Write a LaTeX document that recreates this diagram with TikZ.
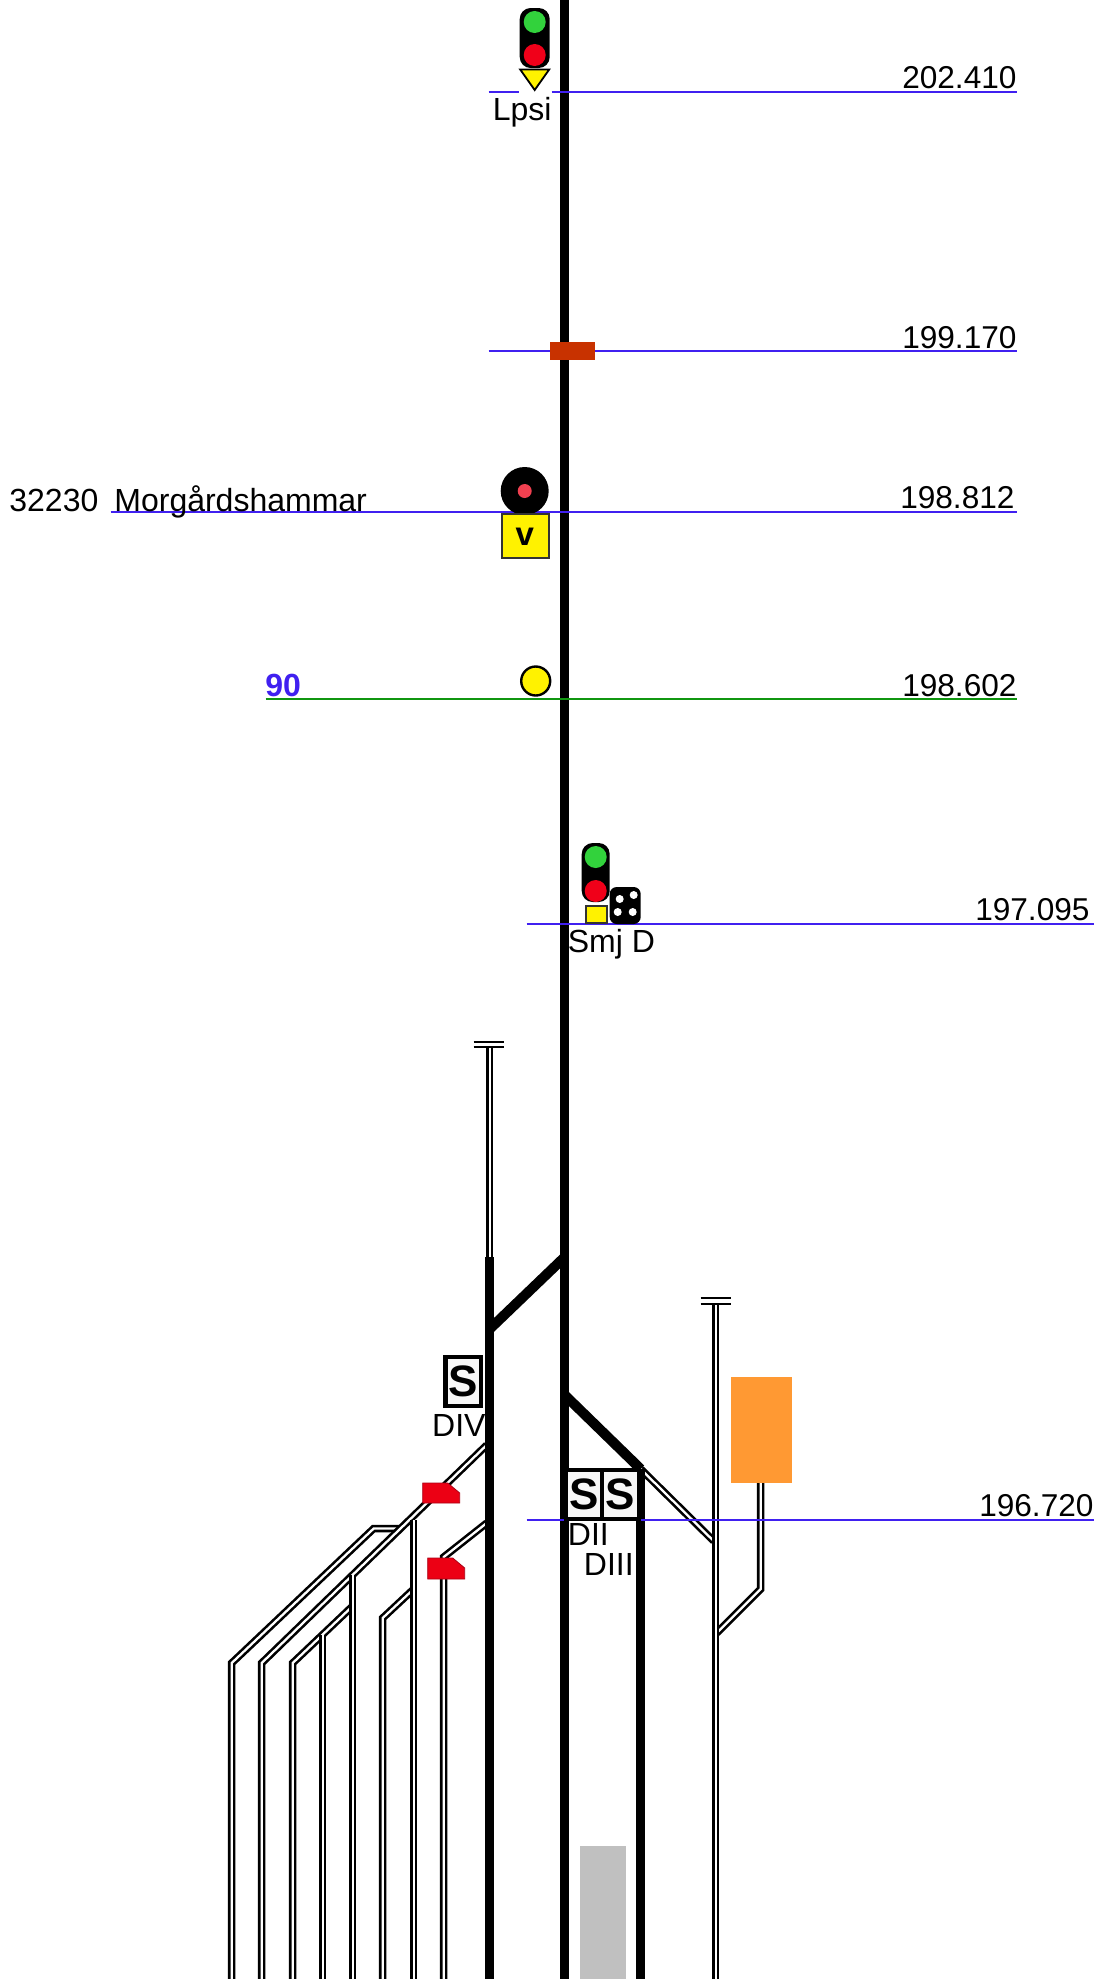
\documentclass[tikz,border=0pt]{standalone}
\usepackage{fontspec}
\setmainfont{Liberation Sans}
\begin{document}
\begin{tikzpicture}[x=1pt,y=-1pt,
  lbl/.style={inner sep=0pt,font=\fontsize{32}{36}\selectfont},
  lblr/.style={lbl,anchor=base east},
  lbll/.style={lbl,anchor=base west},
  kmlbl/.style={lblr,font=\fontsize{31.6}{36}\selectfont},
  thick track/.style={line width=8.6pt,black},
  side track/.style={line width=2.6pt,black,double=white,double distance=2.3pt,line join=miter},
  km blue/.style={line width=2pt,color={rgb,255:red,64;green,32;blue,240}},
  km green/.style={line width=2pt,color={rgb,255:red,16;green,150;blue,16}},
  buffer/.style={line width=2.6pt,black},
  sbox/.style={draw=black,line width=4.4pt,fill=white!97!black,inner sep=0pt,font=\fontsize{44}{44}\selectfont\bfseries},
  redmark/.style={fill={rgb,255:red,236;green,0;blue,20},draw={rgb,255:red,170;green,0;blue,20},line width=0.8pt},
  lamp green/.style={fill={rgb,255:red,50;green,210;blue,60},draw=none},
  lamp red/.style={fill={rgb,255:red,240;green,0;blue,25},draw=none},
  sigbody/.style={fill=black,draw=none,rounded corners=11pt},
  yellowbox/.style={fill=yellow,draw=black!80,line width=2pt},
]
\useasboundingbox (-0.7,0) rectangle (1103.3,1979);
\fill[white] (-0.7,0) rectangle (1103.3,1979);

% platform area
\fill[color={rgb,255:red,192;green,192;blue,192}] (579,1846) rectangle (625,1979);

% named points of the track layout
\coordinate (mainT) at (564,0);
\coordinate (mainB) at (564,1979);
\coordinate (leftT) at (489,1047);
\coordinate (leftM) at (489,1257);
\coordinate (leftB) at (489,1979);
\coordinate (jA) at (564,1257);
\coordinate (jB) at (489,1329);
\coordinate (jC) at (564,1395);
\coordinate (jD) at (640,1469);
\coordinate (d3B) at (640,1979);
\coordinate (eT) at (715,1303);
\coordinate (eB) at (715,1979);
\coordinate (eJ) at (713,1541);
\coordinate (eK) at (716,1633);
\coordinate (fT) at (760,1483);
\coordinate (fM) at (760,1589);

% side tracks on the left
\draw[side track] (400,1528.5) -- (373,1528.5) -- (231,1663) -- (231,1979);
\draw[side track] (486,1445) -- (261,1663) -- (261,1979);
\draw[side track] (352,1606) -- (292,1663) -- (292,1979);
\draw[side track] (322,1635) -- (322,1979);
\draw[side track] (352,1575) -- (352,1979);
\draw[side track] (413,1589) -- (382,1618) -- (382,1979);
\draw[side track] (413,1520) -- (413,1979);
\draw[side track] (486,1523) -- (443,1557) -- (443,1979);

% side tracks on the right
\draw[side track] (jD) -- (eJ);
\draw[side track] (fT) -- (fM) -- (eK);
\draw[side track] (eT) -- (eB);
\draw[buffer] (700,1298) -- (730,1298);
\draw[buffer] (700,1304) -- (730,1304);

% siding at top left
\draw[side track] (leftT) -- (leftM);
\draw[buffer] (473,1042) -- (503,1042);
\draw[buffer] (473,1047) -- (503,1047);

% thick tracks
\draw[thick track] (mainT) -- (mainB);
\draw[thick track] (leftM) -- (leftB);
\draw[thick track,line width=10pt] (jA) -- (jB);
\draw[thick track,line width=10pt] (jC) -- (jD);
\draw[thick track] (jD) -- (d3B);

% kilometre lines
\draw[km blue] (488,92) -- (518,92);
\draw[km blue] (551,92) -- (1016,92);
\draw[km blue] (488,351) -- (1016,351);
\draw[km blue] (110,512) -- (1016,512);
\draw[km green] (265,699) -- (1016,699);
\draw[km blue] (526,924) -- (1093,924);
\draw[km blue] (526,1520) -- (1093,1520);

% orange building
\fill[color={rgb,255:red,255;green,153;blue,51}] (730,1377) rectangle (791,1483);

% red markers
\path[redmark] (422,1483) -- (447,1483) -- (459,1493) -- (459,1503) -- (422,1503) -- cycle;
\path[redmark] (427,1558) -- (452,1558) -- (464,1568) -- (464,1579) -- (427,1579) -- cycle;

% brown block
\fill[color={rgb,255:red,200;green,50;blue,0}] (549,342) rectangle (594,360);

% signal Lpsi
\path[sigbody] (519,8) rectangle (549,68);
\path[lamp green] (534,22) circle (11);
\path[lamp red] (534,55) circle (11);
\path[fill=yellow,draw=black,line width=1.8pt] (519.5,69.5) -- (548.5,69.5) -- (534,90) -- cycle;
\node[lblr] (lpsi) at (551,120) {Lpsi};

% distant board signal
\fill[black] (524,491) circle (24);
\fill[color={rgb,255:red,240;green,64;blue,80}] (524,491) circle (7);
\path[yellowbox] (501,514) rectangle (548,558);
\node[inner sep=0pt,font=\fontsize{33}{33}\selectfont\bfseries] (vmark) at (524,537) {v};

% yellow disc
\path[fill=yellow,draw=black,line width=2.4pt] (535,681) circle (14.5);

% signal Smj D
\path[sigbody] (581,843) rectangle (609,902);
\path[lamp green] (595,857) circle (11);
\path[lamp red] (595,891) circle (11);
\path[fill=yellow,draw=black!80,line width=2pt] (585,906) rectangle (606,923);
\path[fill=black,rounded corners=7pt] (609,902) -- (609,887) -- (624,887) -- (640,887) -- (640,924) -- (609,924) -- cycle;
\fill[white] (619,899) circle (4);
\fill[white] (633,895) circle (4);
\fill[white] (617,912) circle (4);
\fill[white] (632,912) circle (4);
\node[lbll] (smjd) at (567,952) {Smj D};

% S boards
\node[sbox,minimum width=36pt,minimum height=49pt] (sa) at (583.5,1494.5) {S};
\node[sbox,minimum width=36.5pt,minimum height=49pt] (sb) at (619.75,1494.5) {S};
\node[sbox,minimum width=35.5pt,minimum height=49.5pt] (sc) at (462.5,1381.5) {S};
\node[lbll] (dii) at (567,1545) {DII};
\node[lbll] (diii) at (583,1575) {DIII};
\node[lblr] (div) at (485,1436) {DIV};

% kilometre labels
\node[kmlbl] (k1) at (1016,88) {202.410};
\node[kmlbl] (k2) at (1016,348) {199.170};
\node[kmlbl] (k3) at (1014,508) {198.812};
\node[kmlbl] (k4) at (1016,696) {198.602};
\node[kmlbl] (k5) at (1089,920) {197.095};
\node[kmlbl] (k6) at (1093,1516) {196.720};
\node[lbll] (num) at (8.5,511) {32230};
\node[lbll] (morg) at (113.5,511) {Morgårdshammar};
\node[lbll,font=\fontsize{32}{36}\selectfont\bfseries,text={rgb,255:red,64;green,32;blue,240}] (ninety) at (264.5,696) {90};
\end{tikzpicture}
\end{document}
